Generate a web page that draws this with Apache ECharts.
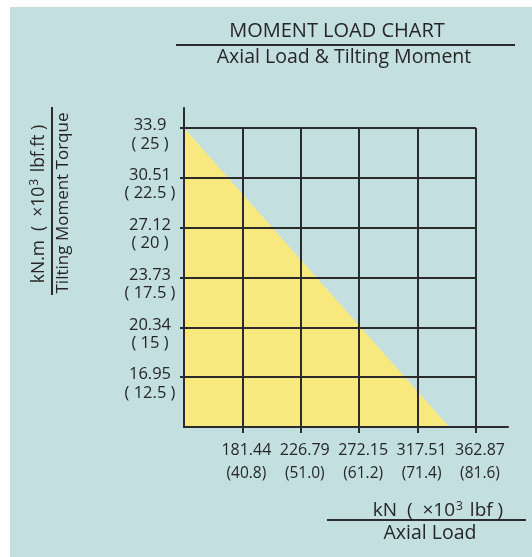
<!DOCTYPE html>
<html>
<head>
<meta charset="utf-8">
<script src="https://cdn.jsdelivr.net/npm/echarts@6/dist/echarts.min.js"></script>
<style>
  html, body { margin: 0; padding: 0; background: #ffffff; }
  #panel { position: absolute; left: 10px; top: 7px; width: 522px; height: 550px; background: #c4dfe0; }
  #chart { position: absolute; left: 0; top: 0; width: 532px; height: 557px; }
</style>
</head>
<body>
<div id="panel"></div>
<div id="chart"></div>
<script>
// Axial load ticks (kN) and their equivalents in ×10³ lbf
const axialKN = [181.44, 226.79, 272.15, 317.51, 362.87];
const axialLbf = ['40.8', '51.0', '61.2', '71.4', '81.6'];
// Tilting moment ticks (×10³ lbf.ft) and their equivalents in kN.m
const momentLbfFt = [12.5, 15, 17.5, 20, 22.5, 25];
const momentKNm = ['16.95', '20.34', '23.73', '27.12', '30.51', '33.9'];
// Permissible load boundary: [axial load kN, tilting moment ×10³ lbf.ft]
const limitLine = [[136.08, 25], [342, 10]];

// Axis ranges
const xMin = 136.08, xStep = 45.36, xGridMax = 362.88, xAxisMax = 387.73;
const yMin = 10, yStep = 2.5, yGridMax = 25, yAxisMax = 26;

const INK = '#262626';
const LINE = '#2b2b2b';
const FONT = '"Open Sans", "Noto Sans", sans-serif';

const nearest = (arr, v) => {
  let best = 0;
  arr.forEach((a, i) => { if (Math.abs(a - v) < Math.abs(arr[best] - v)) best = i; });
  return best;
};

const supStyle = { fontSize: 12, fontFamily: FONT, fill: INK, verticalAlign: 'top', padding: [0, 2, 9, 1] };

const chart = echarts.init(document.getElementById('chart'), null, { renderer: 'canvas' });

chart.setOption({
  backgroundColor: 'transparent',
  animation: false,
  textStyle: { fontFamily: FONT, color: INK },
  grid: [
    // cell grid holding the split lines and the shaded region
    { left: 184, top: 128, width: 292, height: 299 },
    // outer frame holding the axis lines, ticks and labels
    { left: 184, top: 108, width: 324, height: 319 }
  ],
  xAxis: [
    {
      gridIndex: 0, type: 'value', min: xMin, max: xGridMax, interval: xStep, z: 5,
      axisLine: { show: false }, axisTick: { show: false }, axisLabel: { show: false },
      splitLine: { show: true, lineStyle: { color: LINE, width: 2 } }
    },
    {
      gridIndex: 1, type: 'value', min: xMin, max: xAxisMax, interval: xStep, z: 6,
      axisLine: { show: true, lineStyle: { color: LINE, width: 2 } },
      axisTick: { show: true, customValues: axialKN, length: 6, lineStyle: { color: LINE, width: 2 } },
      splitLine: { show: false },
      axisLabel: {
        show: true, customValues: axialKN, interval: 0, margin: 12, align: 'center', verticalAlign: 'top',
        showMinLabel: true, showMaxLabel: true, hideOverlap: false,
        padding: [0, 0, 0, 8],
        fontFamily: FONT, fontSize: 16, color: INK, lineHeight: 23,
        formatter: v => {
          const i = nearest(axialKN, v);
          return axialKN[i].toFixed(2) + '\n{s|(' + axialLbf[i] + ')}';
        },
        rich: { s: { fontFamily: FONT, fontSize: 15.5, color: INK, lineHeight: 23 } }
      }
    }
  ],
  yAxis: [
    {
      gridIndex: 0, type: 'value', min: yMin, max: yGridMax, interval: yStep, z: 5,
      axisLine: { show: false }, axisTick: { show: false }, axisLabel: { show: false },
      splitLine: { show: true, lineStyle: { color: LINE, width: 2 } }
    },
    {
      gridIndex: 1, type: 'value', min: yMin, max: yAxisMax, interval: yStep, z: 6,
      axisLine: { show: true, lineStyle: { color: LINE, width: 2 } },
      axisTick: { show: true, customValues: momentLbfFt, length: 4, lineStyle: { color: LINE, width: 2 } },
      splitLine: { show: false },
      axisLabel: {
        show: true, customValues: momentLbfFt, interval: 0, margin: 34, align: 'center', verticalAlign: 'middle',
        showMinLabel: true, showMaxLabel: true, hideOverlap: false,
        fontFamily: FONT, fontSize: 16.5, color: INK,
        formatter: v => {
          const i = nearest(momentLbfFt, v);
          return '{a|' + momentKNm[i] + '}\n{b|( ' + momentLbfFt[i] + ' )}';
        },
        rich: {
          a: { fontFamily: FONT, fontSize: 16.5, color: INK, lineHeight: 32 },
          b: { fontFamily: FONT, fontSize: 16.5, color: INK, lineHeight: 5 }
        }
      }
    }
  ],
  series: [
    {
      type: 'line', xAxisIndex: 0, yAxisIndex: 0, z: 1,
      data: limitLine, symbol: 'none', silent: true,
      lineStyle: { width: 0 },
      areaStyle: { color: '#f8e97f', opacity: 1 }
    }
  ],
  graphic: [
    // chart heading
    { type: 'text', x: 337, y: 31, style: { text: 'MOMENT LOAD CHART', font: '20px ' + FONT, fill: INK, align: 'center', verticalAlign: 'middle' } },
    { type: 'rect', shape: { x: 176, y: 44, width: 339, height: 2 }, style: { fill: LINE } },
    { type: 'text', x: 344, y: 57, style: { text: 'Axial Load & Tilting Moment', font: '19.5px ' + FONT, fill: INK, align: 'center', verticalAlign: 'middle' } },
    // vertical axis caption
    {
      type: 'text', x: 39, y: 204, rotation: Math.PI / 2,
      style: {
        text: 'kN.m  (  ×10{sup|3} lbf.ft )', font: '17.5px ' + FONT, fill: INK, align: 'center', verticalAlign: 'middle',
        rich: { sup: supStyle }
      }
    },
    { type: 'rect', shape: { x: 51, y: 107, width: 2, height: 188 }, style: { fill: LINE } },
    { type: 'text', x: 63, y: 203, rotation: Math.PI / 2, style: { text: 'Tilting Moment Torque', font: '17px ' + FONT, fill: INK, align: 'center', verticalAlign: 'middle' } },
    // horizontal axis caption
    {
      type: 'text', x: 438, y: 511,
      style: {
        text: 'kN  (  ×10{sup|3} lbf )', font: '19px ' + FONT, fill: INK, align: 'center', verticalAlign: 'middle',
        rich: { sup: supStyle }
      }
    },
    { type: 'rect', shape: { x: 327, y: 519, width: 199, height: 2 }, style: { fill: LINE } },
    { type: 'text', x: 430, y: 533, style: { text: 'Axial Load', font: '19.5px ' + FONT, fill: INK, align: 'center', verticalAlign: 'middle' } }
  ]
});
</script>
</body>
</html>
